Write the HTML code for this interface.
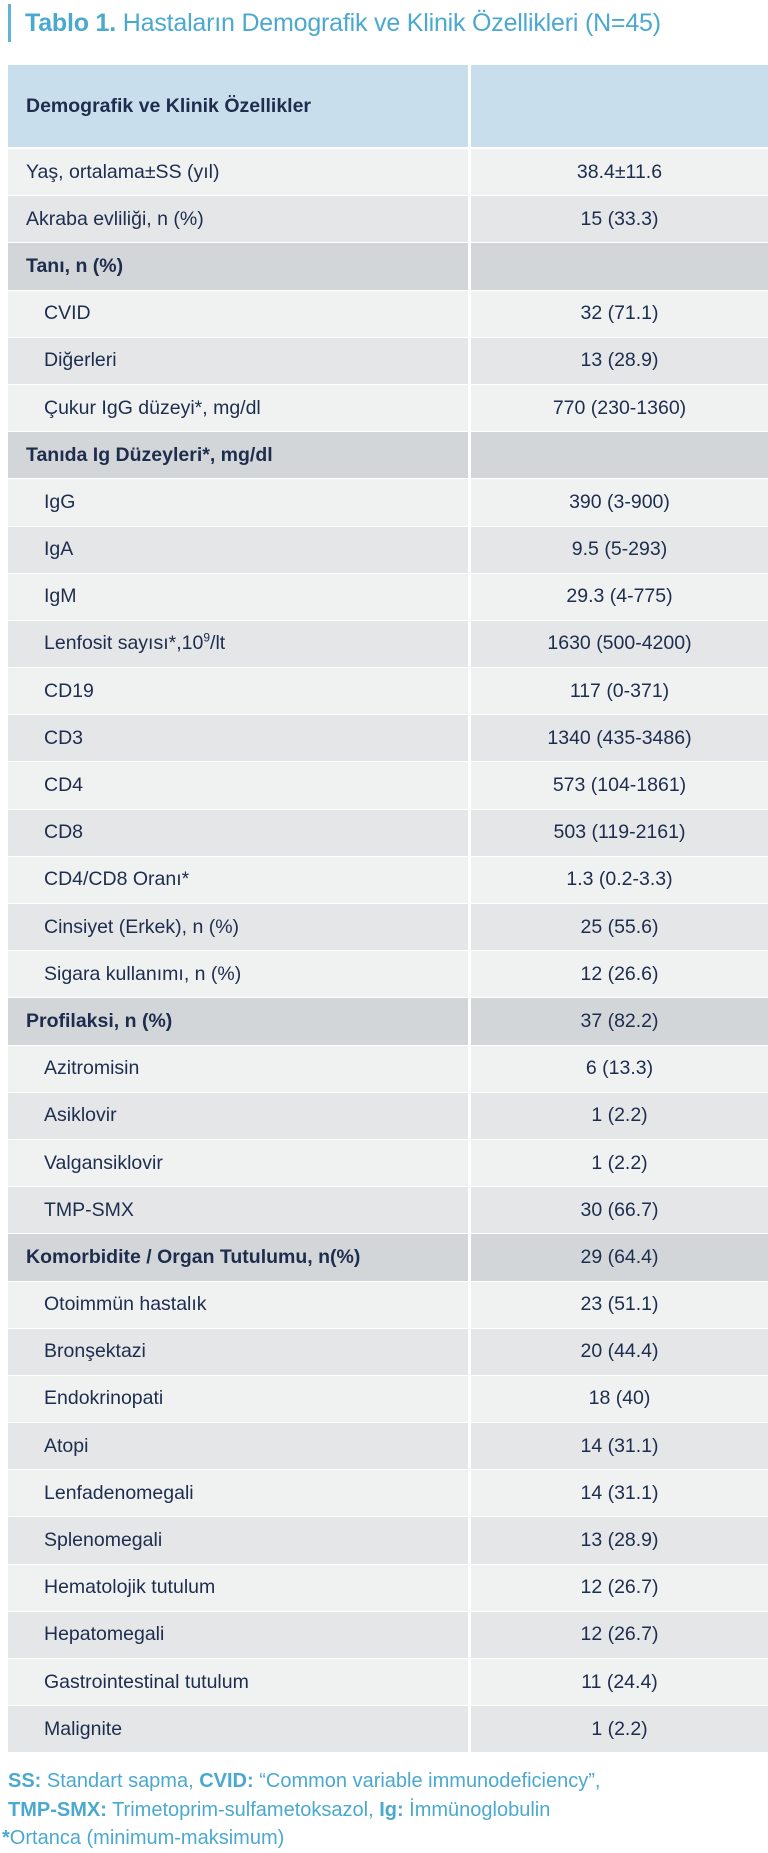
<!DOCTYPE html>
<html><head><meta charset="utf-8"><style>
body{margin:0;width:768px;height:1850px;background:#fff;font-family:"Liberation Sans",sans-serif;color:#1e2d4d;position:relative;overflow:hidden}
.title{position:absolute;left:8px;top:4px;height:38px;border-left:3px solid #5fb3d4;padding-left:14px;font-size:25px;line-height:38px;color:#4ba9cf;letter-spacing:-0.2px}
.title b{font-weight:bold}
table{position:absolute;left:8px;top:65px;width:760px;border-collapse:collapse;font-size:19.5px;table-layout:fixed}
td{height:46.2px;padding:0;border-bottom:1px solid #fff}
td.l{width:442px;padding-left:18px;border-right:3px solid #fff}
td.r{text-align:center}
tr.a td{background:#f0f2f2}
tr.b td{background:#e4e6e8}
tr.s td{background:#d3d6d9;font-weight:bold}
tr.h td{background:#c9deec;height:82px;font-weight:bold;border-bottom:2px solid #fff}
td.i{padding-left:36px;width:424px}
sup{font-size:12px;line-height:0}
.foot{position:absolute;left:8px;top:1767px;font-size:20px;line-height:28.5px;color:#4ba9cf}
</style></head><body>
<div class="title"><b>Tablo 1.</b> Hastaların Demografik ve Klinik Özellikleri (N=45)</div>
<table>
<tr class="h"><td class="l">Demografik ve Klinik Özellikler</td><td class="r"></td></tr>
<tr class="a"><td class="l">Yaş, ortalama±SS (yıl)</td><td class="r">38.4±11.6</td></tr>
<tr class="b"><td class="l">Akraba evliliği, n (%)</td><td class="r">15 (33.3)</td></tr>
<tr class="s"><td class="l">Tanı, n (%)</td><td class="r"></td></tr>
<tr class="a"><td class="l i">CVID</td><td class="r">32 (71.1)</td></tr>
<tr class="b"><td class="l i">Diğerleri</td><td class="r">13 (28.9)</td></tr>
<tr class="a"><td class="l i">Çukur IgG düzeyi*, mg/dl</td><td class="r">770 (230-1360)</td></tr>
<tr class="s"><td class="l">Tanıda Ig Düzeyleri*, mg/dl</td><td class="r"></td></tr>
<tr class="a"><td class="l i">IgG</td><td class="r">390 (3-900)</td></tr>
<tr class="b"><td class="l i">IgA</td><td class="r">9.5 (5-293)</td></tr>
<tr class="a"><td class="l i">IgM</td><td class="r">29.3 (4-775)</td></tr>
<tr class="b"><td class="l i">Lenfosit sayısı*,10<sup>9</sup>/lt</td><td class="r">1630 (500-4200)</td></tr>
<tr class="a"><td class="l i">CD19</td><td class="r">117 (0-371)</td></tr>
<tr class="b"><td class="l i">CD3</td><td class="r">1340 (435-3486)</td></tr>
<tr class="a"><td class="l i">CD4</td><td class="r">573 (104-1861)</td></tr>
<tr class="b"><td class="l i">CD8</td><td class="r">503 (119-2161)</td></tr>
<tr class="a"><td class="l i">CD4/CD8 Oranı*</td><td class="r">1.3 (0.2-3.3)</td></tr>
<tr class="b"><td class="l i">Cinsiyet (Erkek), n (%)</td><td class="r">25 (55.6)</td></tr>
<tr class="a"><td class="l i">Sigara kullanımı, n (%)</td><td class="r">12 (26.6)</td></tr>
<tr class="s"><td class="l">Profilaksi, n (%)</td><td class="r" style="font-weight:normal">37 (82.2)</td></tr>
<tr class="a"><td class="l i">Azitromisin</td><td class="r">6 (13.3)</td></tr>
<tr class="b"><td class="l i">Asiklovir</td><td class="r">1 (2.2)</td></tr>
<tr class="a"><td class="l i">Valgansiklovir</td><td class="r">1 (2.2)</td></tr>
<tr class="b"><td class="l i">TMP-SMX</td><td class="r">30 (66.7)</td></tr>
<tr class="s"><td class="l">Komorbidite / Organ Tutulumu, n(%)</td><td class="r" style="font-weight:normal">29 (64.4)</td></tr>
<tr class="a"><td class="l i">Otoimmün hastalık</td><td class="r">23 (51.1)</td></tr>
<tr class="b"><td class="l i">Bronşektazi</td><td class="r">20 (44.4)</td></tr>
<tr class="a"><td class="l i">Endokrinopati</td><td class="r">18 (40)</td></tr>
<tr class="b"><td class="l i">Atopi</td><td class="r">14 (31.1)</td></tr>
<tr class="a"><td class="l i">Lenfadenomegali</td><td class="r">14 (31.1)</td></tr>
<tr class="b"><td class="l i">Splenomegali</td><td class="r">13 (28.9)</td></tr>
<tr class="a"><td class="l i">Hematolojik tutulum</td><td class="r">12 (26.7)</td></tr>
<tr class="b"><td class="l i">Hepatomegali</td><td class="r">12 (26.7)</td></tr>
<tr class="a"><td class="l i">Gastrointestinal tutulum</td><td class="r">11 (24.4)</td></tr>
<tr class="b"><td class="l i">Malignite</td><td class="r">1 (2.2)</td></tr>
</table>
<div class="foot">
<b>SS:</b> Standart sapma, <b>CVID:</b> “Common variable immunodeficiency”,<br>
<b>TMP-SMX:</b> Trimetoprim-sulfametoksazol, <b>Ig:</b> İmmünoglobulin<br>
<span style="margin-left:-6px"><b>*</b>Ortanca (minimum-maksimum)</span>
</div>
</body></html>
